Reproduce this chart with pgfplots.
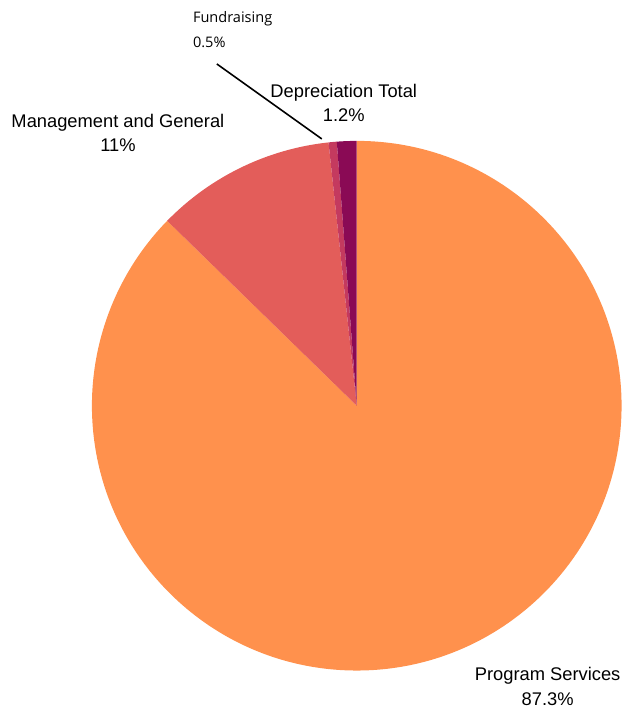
\documentclass[border=0pt]{standalone}
\usepackage{fontspec}
\setmainfont{Liberation Sans}
\newfontfamily\smallfont{Open Sans}
\usepackage{pgfplots}
\pgfplotsset{compat=1.18}

\definecolor{cProg}{HTML}{FF914D}
\definecolor{cMgmt}{HTML}{E35D5A}
\definecolor{cFund}{HTML}{C43A5F}
\definecolor{cDepr}{HTML}{8A0A55}

% shares in percent, clockwise from 12 o'clock
\def\vProg{87.3}
\def\vMgmt{11}
\def\vFund{0.5}
\def\vDepr{1.2}

\begin{document}
\begin{tikzpicture}
\begin{axis}[
  x=1bp, y=1bp,
  xmin=-357, xmax=275,
  ymin=-303, ymax=406,
  hide axis,
  clip=false,
  scale only axis,
]
  \path (rel axis cs:0,0) rectangle (rel axis cs:1,1);

  \pgfmathsetmacro{\aA}{90}
  \pgfmathsetmacro{\aB}{\aA-\vProg*3.6}
  \pgfmathsetmacro{\aC}{\aB-\vMgmt*3.6}
  \pgfmathsetmacro{\aD}{\aC-\vFund*3.6}
  \pgfmathsetmacro{\aE}{\aD-\vDepr*3.6}

  \fill[cProg] (axis cs:0,0) -- ++(\aA:265bp) arc[start angle=\aA, end angle=\aB, radius=265bp] -- cycle;
  \fill[cMgmt] (axis cs:0,0) -- ++(\aB:265bp) arc[start angle=\aB, end angle=\aC, radius=265bp] -- cycle;
  \fill[cFund] (axis cs:0,0) -- ++(\aC:265bp) arc[start angle=\aC, end angle=\aD, radius=265bp] -- cycle;
  \fill[cDepr] (axis cs:0,0) -- ++(\aD:265bp) arc[start angle=\aD, end angle=\aE, radius=265bp] -- cycle;

  \node[align=center, font=\fontsize{18.4}{25}\selectfont] at (axis cs:191,-281) {Program Services\\87.3\%};
  \node[align=center, font=\fontsize{18.4}{25}\selectfont] at (axis cs:-239,273) {Management and General\\11\%};
  \node[align=center, font=\fontsize{18.4}{25}\selectfont] at (axis cs:-13,303) {Depreciation Total\\1.2\%};
  \node[align=left, anchor=west, inner xsep=0pt, font=\smallfont\fontsize{14.6}{25}\selectfont] at (axis cs:-164,376) {Fundraising\\0.5\%};
  \draw[black, line width=1.6bp] (axis cs:-140,342) -- (axis cs:-35,267);
\end{axis}
\end{tikzpicture}
\end{document}
